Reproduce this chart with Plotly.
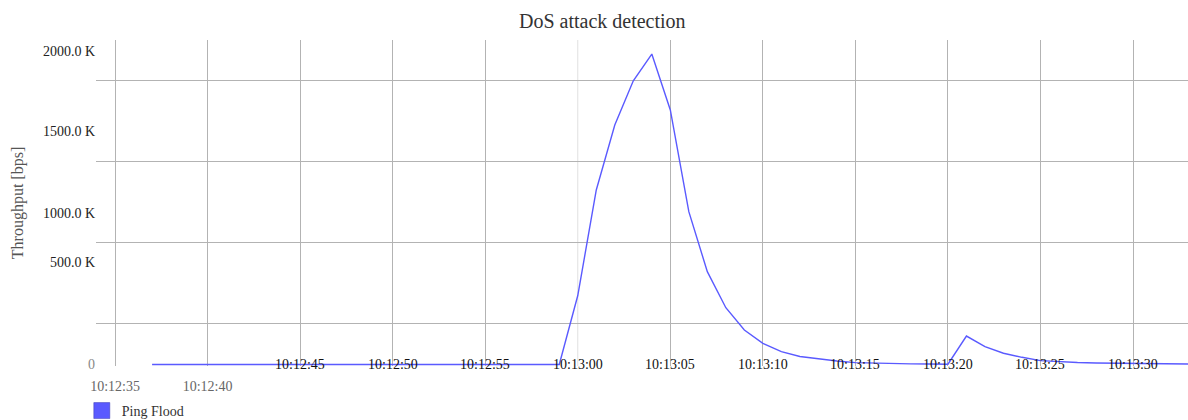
import pandas as pd
import plotly.graph_objects as go

# ---- data ----
start_time = "2024-01-01 10:12:37"
throughput_bps = [0] * 23 + [
    441600, 1116800, 1532800, 1816000, 1987000, 1629000, 978000, 594000,
    363500, 220800, 135700, 82000, 51000, 35000, 22000, 12000, 8000, 6000,
    4000, 3000, 2000, 182000, 114000, 72000, 46000, 25000, 17000, 13000,
    10000, 8000, 7000, 6000, 4000, 3000,
]
series_name = "Ping Flood"

x_tick_times = ["2024-01-01 10:12:35", "2024-01-01 10:12:40", "2024-01-01 10:12:45",
                "2024-01-01 10:12:50", "2024-01-01 10:12:55", "2024-01-01 10:13:00",
                "2024-01-01 10:13:05", "2024-01-01 10:13:10", "2024-01-01 10:13:15",
                "2024-01-01 10:13:20", "2024-01-01 10:13:25", "2024-01-01 10:13:30"]
x_tick_labels = ["10:12:35", "10:12:40", "10:12:45", "10:12:50", "10:12:55", "10:13:00",
                 "10:13:05", "10:13:10", "10:13:15", "10:13:20", "10:13:25", "10:13:30"]

y_grid_values = [263680, 779520, 1297920, 1818880]
y_label_values = [0, 656000, 969600, 1491200, 2003200]
y_label_texts = ["0", "500.0 K", "1000.0 K", "1500.0 K", "2000.0 K"]

x_range = ["2024-01-01 10:12:33.97", "2024-01-01 10:13:32.97"]
y_range = [-9600, 2076800]

times = pd.date_range(start=start_time, periods=len(throughput_bps), freq="s")

FONT = "Liberation Serif"
BLUE = "rgb(90,90,255)"
GRID = "#b3b3b3"
LIGHT_IDX = 5  # the 10:13:00 grid line is drawn lighter

fig = go.Figure()
fig.add_trace(go.Scatter(x=times, y=throughput_bps, mode="lines",
                         line=dict(color=BLUE, width=1.4), showlegend=False,
                         hoverinfo="x+y"))
# legend entry with a square swatch
fig.add_trace(go.Scatter(x=[None], y=[None], mode="markers", name=series_name,
                         marker=dict(symbol="square", size=16, color=BLUE,
                                     line=dict(color="#3a3ab0", width=0.5))))
# dummy trace to activate the label axis
fig.add_trace(go.Scatter(x=[None], y=[None], yaxis="y2", showlegend=False))

grid_vals, grid_text = [], []
for i, (t, lab) in enumerate(zip(x_tick_times, x_tick_labels)):
    if i == LIGHT_IDX:
        continue
    grid_vals.append(t)
    grid_text.append(f'<span style="color:#666">{lab}</span>' if i < 2 else "")

fig.update_layout(
    width=1188, height=420,
    margin=dict(l=96, r=0, t=40, b=54, autoexpand=False),
    paper_bgcolor="white", plot_bgcolor="white",
    font=dict(family=FONT, size=14, color="#222"),
    title=dict(text="DoS attack detection", x=0.507, xref="container", xanchor="center",
               y=1 - 21 / 420, yref="container", yanchor="middle",
               font=dict(family=FONT, size=20, color="#333")),
    xaxis=dict(type="date", range=x_range, tickvals=grid_vals, ticktext=grid_text,
               showgrid=True, gridcolor=GRID, gridwidth=1, zeroline=False,
               showline=False, ticks="", ticklabelstandoff=10,
               tickfont=dict(family=FONT, size=14, color="#666")),
    yaxis=dict(range=y_range, tickvals=y_grid_values, showticklabels=False,
               showgrid=True, gridcolor=GRID, gridwidth=1, zeroline=False,
               showline=False, ticks="",
               title=dict(text="Throughput [bps]", standoff=67,
                          font=dict(family=FONT, size=16, color="#555"))),
    yaxis2=dict(range=y_range, overlaying="y", side="left", tickvals=y_label_values,
                ticktext=['<span style="color:#888">0</span>'] + y_label_texts[1:],
                showgrid=False, zeroline=False, showline=False, ticks="",
                tickfont=dict(family=FONT, size=14, color="#222")),
    legend=dict(orientation="h", x=-0.013, xanchor="left", y=-0.138, yanchor="middle",
                font=dict(family=FONT, size=14, color="#333"), bgcolor="rgba(0,0,0,0)"),
    showlegend=True,
)

# lighter gridline at 10:13:00
fig.add_shape(type="line", xref="x", yref="paper",
              x0=x_tick_times[LIGHT_IDX], x1=x_tick_times[LIGHT_IDX],
              y0=0, y1=1, line=dict(color="#e0e0e0", width=1), layer="below")

# tick labels drawn across the baseline
for t, lab in list(zip(x_tick_times, x_tick_labels))[2:]:
    fig.add_annotation(x=t, y=0, xref="x", yref="y", text=lab, showarrow=False,
                       xanchor="center", yanchor="middle",
                       font=dict(family=FONT, size=14, color="#111"))

fig.write_html("out.html", config={"displayModeBar": False},
               post_script="document.body.style.margin='0';document.body.style.overflow='hidden';")
